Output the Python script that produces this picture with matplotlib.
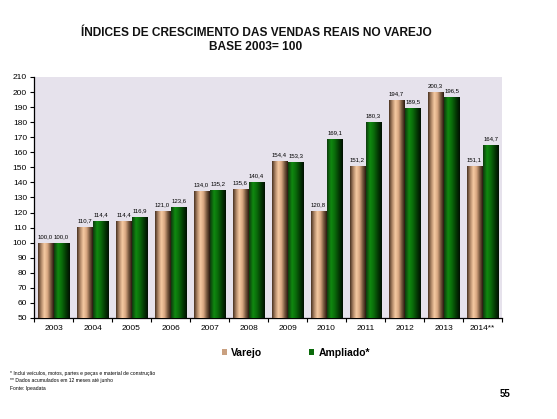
import numpy as np
import matplotlib
matplotlib.use("Agg")
import matplotlib.pyplot as plt
from matplotlib.colors import LinearSegmentedColormap
from matplotlib.patches import Patch

years = ["2003", "2004", "2005", "2006", "2007", "2008", "2009", "2010", "2011", "2012", "2013", "2014**"]
varejo = [100.0, 110.7, 114.4, 121.0, 134.0, 135.6, 154.4, 120.8, 151.2, 194.7, 200.3, 151.1]
ampliado = [100.0, 114.4, 116.9, 123.6, 135.2, 140.4, 153.3, 169.1, 180.3, 189.5, 196.5, 164.7]
series_names = ["Varejo", "Ampliado*"]
title = "ÍNDICES DE CRESCIMENTO DAS VENDAS REAIS NO VAREJO\nBASE 2003= 100"
notes = ["* Inclui veículos, motos, partes e peças e material de construção",
         "** Dados acumulados em 12 meses até junho",
         "Fonte: Ipeadata"]

plt.rcParams['font.family'] = ['Liberation Sans', 'DejaVu Sans']

fig = plt.figure(figsize=(5.57, 4.19), dpi=100)
fig.patch.set_facecolor("white")
ax = fig.add_axes([34/557, 1-318/419, (502-34)/557, (318-77)/419])
ax.set_facecolor("#E6E2EC")

tan_cmap = LinearSegmentedColormap.from_list("tan", ["#4a3322", "#b08868", "#f6caa2", "#d8a882", "#7a5a40", "#2a1a10"])
green_cmap = LinearSegmentedColormap.from_list("grn", ["#0d3a0d", "#108a10", "#0a6a0a", "#043a04", "#010f01"])

x = np.arange(len(years))
w = 0.405
gap = 0.01
b1 = ax.bar(x - w/2 - gap/2, varejo, w, bottom=0, color="#c9a080", zorder=2)
b2 = ax.bar(x + w/2 + gap/2, ampliado, w, bottom=0, color="#0a6a0a", zorder=2)

grad = np.linspace(0, 1, 64).reshape(1, -1)
for bars, cmap in ((b1, tan_cmap), (b2, green_cmap)):
    for r in bars:
        x0, y0 = r.get_x(), 50
        im = ax.imshow(grad, cmap=cmap, aspect="auto", zorder=3,
                       extent=[x0, x0 + r.get_width(), y0, r.get_height()])
        im.set_clip_path(r)

for bars, vals in ((b1, varejo), (b2, ampliado)):
    for r, v in zip(bars, vals):
        ax.text(r.get_x() + r.get_width()/2, v + 2.5, f"{v:.1f}".replace(".", ","),
                ha="center", va="bottom", fontsize=4.3, zorder=4)

ax.set_xlim(-0.5, len(years) - 0.5)
ax.set_ylim(50, 210)
ax.set_yticks(np.arange(50, 211, 10))
ax.tick_params(axis="y", labelsize=6, length=3, width=0.8, pad=2)
ax.set_xticks(x)
ax.set_xticklabels(years, fontsize=6)
ax.tick_params(axis="x", length=0, pad=5)
ax.set_xticks(np.arange(-0.5, len(years), 1), minor=True)
ax.tick_params(axis="x", which="minor", length=3, width=0.8)
for s in ("top", "right"):
    ax.spines[s].set_visible(False)
for s in ("left", "bottom"):
    ax.spines[s].set_linewidth(0.9)

fig.text(256/557, 1 - 40/419, title, ha="center", va="center", fontsize=8.6,
         fontweight="bold", linespacing=1.25, color="#111111")

handles = [Patch(facecolor="#c9a080", edgecolor="none"), Patch(facecolor="#0a6a0a", edgecolor="none")]
fig.legend(handles, series_names, loc="center", bbox_to_anchor=(296/557, 1 - 353/419),
           ncol=2, frameon=False, handlelength=0.5, handleheight=0.5,
           columnspacing=4.5, handletextpad=0.4,
           prop={"weight": "bold", "size": 7.5})

for i, n in enumerate(notes):
    fig.text(10/557, 1 - (373 + i*7.5)/419, n, fontsize=3.6, va="center", ha="left")

fig.text(505/557, 1 - 394/419, "55", fontsize=7, fontweight="bold", ha="center", va="center")

fig.savefig("out.png", dpi=100)
